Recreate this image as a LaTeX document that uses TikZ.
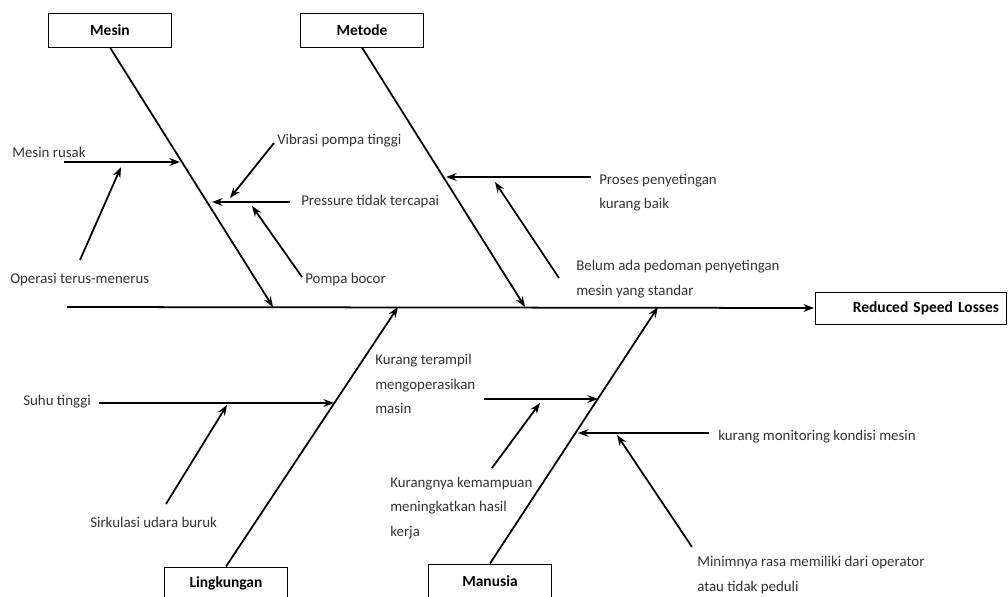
\documentclass[tikz,border=0pt]{standalone}
\usepackage{fontspec}
\setmainfont{Carlito}
\usepackage{tikz}
\usetikzlibrary{arrows.meta}
\definecolor{ink}{HTML}{333333}
\tikzset{
  catbox/.style={draw,line width=0.7pt,minimum width=3.075cm,minimum height=0.85cm,inner sep=0pt,font=\bfseries\fontsize{11}{12}\selectfont},
  causetext/.style={anchor=west,inner sep=0pt,align=left,text=ink,font=\fontsize{10.6}{17.4}\selectfont},
  bone/.style={line width=1.25pt,-{Stealth[length=7.5pt,width=5.5pt]}}
}

\begin{document}
\begin{tikzpicture}[x=0.025cm,y=-0.025cm]
\useasboundingbox (0,0) rectangle (1008,597);
% kategori
\node[catbox] (mesin) at (110,30) {Mesin}; \node[catbox] (metode) at (362,30) {Metode};
\node[catbox,minimum height=0.825cm] (lingk) at (226,583.5) {Lingkungan}; \node[catbox] (manusia) at (490,581) {Manusia};
\node[catbox,text width=4.4cm,inner xsep=0.175cm,align=right,minimum height=0.8cm] (effect) at (911,308) {Reduced Speed Losses};
% tulang utama
\coordinate (tail) at (67,307);
\coordinate (mA) at (273,307); \coordinate (mB) at (525,307); \coordinate (mC) at (398,307); \coordinate (mD) at (658,307);
\draw[bone,shorten >=1pt] (tail) -- (effect.west);
\draw[bone] (mesin.south) -- (mA); \draw[bone] (metode.south) -- (mB);
\draw[bone] (lingk.north) -- (mC); \draw[bone] (manusia.north) -- (mD);
% Mesin
\node[causetext] (rusak) at (12,152) {Mesin rusak};
\coordinate (rusakS) at (64,162); \coordinate (rusakE) at (180,162); \draw[bone] (rusakS) -- (rusakE);
\node[causetext] (operasi) at (10,280) {Operasi terus-menerus};
\coordinate (operasiS) at (80,260); \coordinate (operasiE) at (121,167); \draw[bone] (operasiS) -- (operasiE);
\node[causetext] (pressure) at (301,202) {Pressure tidak tercapai};
\coordinate (pressureS) at (290,202); \coordinate (pressureE) at (212,202); \draw[bone] (pressureS) -- (pressureE);
\node[causetext] (vibrasi) at (277,141) {Vibrasi pompa tinggi};
\coordinate (vibrasiS) at (274,143); \coordinate (vibrasiE) at (230,198); \draw[bone] (vibrasiS) -- (vibrasiE);
\node[causetext] (bocor) at (305,280) {Pompa bocor};
\coordinate (bocorS) at (302,277); \coordinate (bocorE) at (252,206); \draw[bone] (bocorS) -- (bocorE);
% Metode
\node[causetext] (proses) at (599,192.5) {Proses penyetingan\\kurang baik};
\coordinate (prosesS) at (591,177); \coordinate (prosesE) at (446,177); \draw[bone] (prosesS) -- (prosesE);
\node[causetext] (pedoman) at (576,279) {Belum ada pedoman penyetingan\\mesin yang standar};
\coordinate (pedomanS) at (559,278); \coordinate (pedomanE) at (495,182); \draw[bone] (pedomanS) -- (pedomanE);
% Lingkungan
\node[causetext] (suhu) at (23,402) {Suhu tinggi};
\coordinate (suhuS) at (99,403); \coordinate (suhuE) at (334,403); \draw[bone] (suhuS) -- (suhuE);
\node[causetext] (udara) at (90,522) {Sirkulasi udara buruk};
\coordinate (udaraS) at (166,504); \coordinate (udaraE) at (227,405); \draw[bone] (udaraS) -- (udaraE);
% Manusia
\node[causetext] (terampil) at (375,384) {Kurang terampil\\mengoperasikan\\masin};
\coordinate (terampilS) at (484,399); \coordinate (terampilE) at (598,399); \draw[bone] (terampilS) -- (terampilE);
\node[causetext] (mampu) at (390,508) {Kurangnya kemampuan\\meningkatkan hasil\\kerja};
\coordinate (mampuS) at (492,468); \coordinate (mampuE) at (540,403); \draw[bone] (mampuS) -- (mampuE);
\node[causetext] (monitor) at (718,437) {kurang monitoring kondisi mesin};
\coordinate (monitorS) at (709,433); \coordinate (monitorE) at (578,433); \draw[bone] (monitorS) -- (monitorE);
\node[causetext] (peduli) at (697,575) {Minimnya rasa memiliki dari operator\\atau tidak peduli};
\coordinate (peduliS) at (692,547); \coordinate (peduliE) at (617,435); \draw[bone] (peduliS) -- (peduliE);
\end{tikzpicture}
\end{document}
